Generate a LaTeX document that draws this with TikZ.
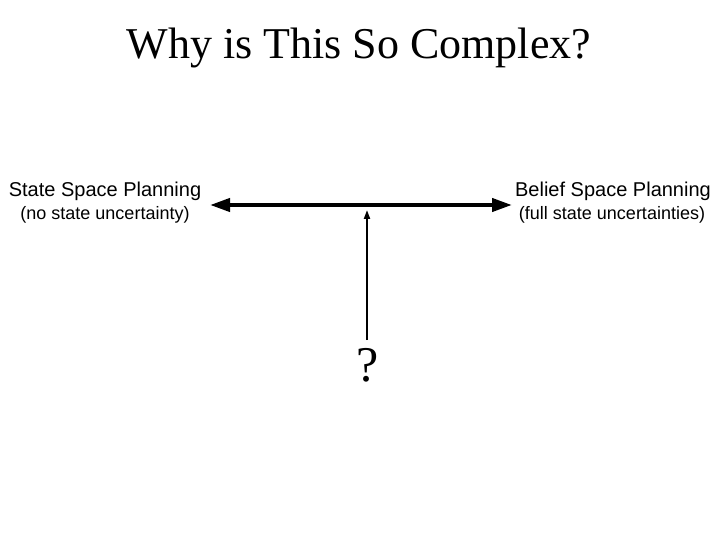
\documentclass[tikz,border=0pt]{standalone}
\usepackage{fontspec}
\setmainfont{Liberation Serif}
\setsansfont{Liberation Sans}
\usetikzlibrary{arrows.meta}
\begin{document}
\begin{tikzpicture}[x=1pt,y=1pt,
  lbl/.style={font=\sffamily\fontsize{20}{22}\selectfont, inner sep=0pt, align=center},
  sub/.style={font=\sffamily\fontsize{18}{20}\selectfont, inner sep=0pt},
  bigarrow/.style={line width=4pt, {Triangle[length=20pt,width=13pt]}-{Triangle[length=20pt,width=13pt]}},
  thinarrow/.style={line width=2pt, -{Triangle[length=9pt,width=6pt]}}]
\useasboundingbox (0,0) rectangle (720,-540);
\node[font=\fontsize{44}{48}\selectfont, inner sep=0pt] (title) at (359,-48) {Why is This So Complex?};
\node[lbl] (ssp) at (105,-191) {State Space Planning};
\node[sub] (ssps) at (105,-215) {(no state uncertainty)};
\node[lbl] (bsp) at (613,-191) {Belief Space Planning};
\node[sub] (bsps) at (612,-215) {(full state uncertainties)};
\coordinate (L) at (210,-205);
\coordinate (R) at (512,-205);
\draw[bigarrow] (L) -- (R);
\node[font=\fontsize{50}{54}\selectfont, inner sep=0pt] (q) at (368,-365) {?};
\coordinate (top) at (367,-210);
\draw[thinarrow] (367,-340) -- (top);
\end{tikzpicture}
\end{document}
